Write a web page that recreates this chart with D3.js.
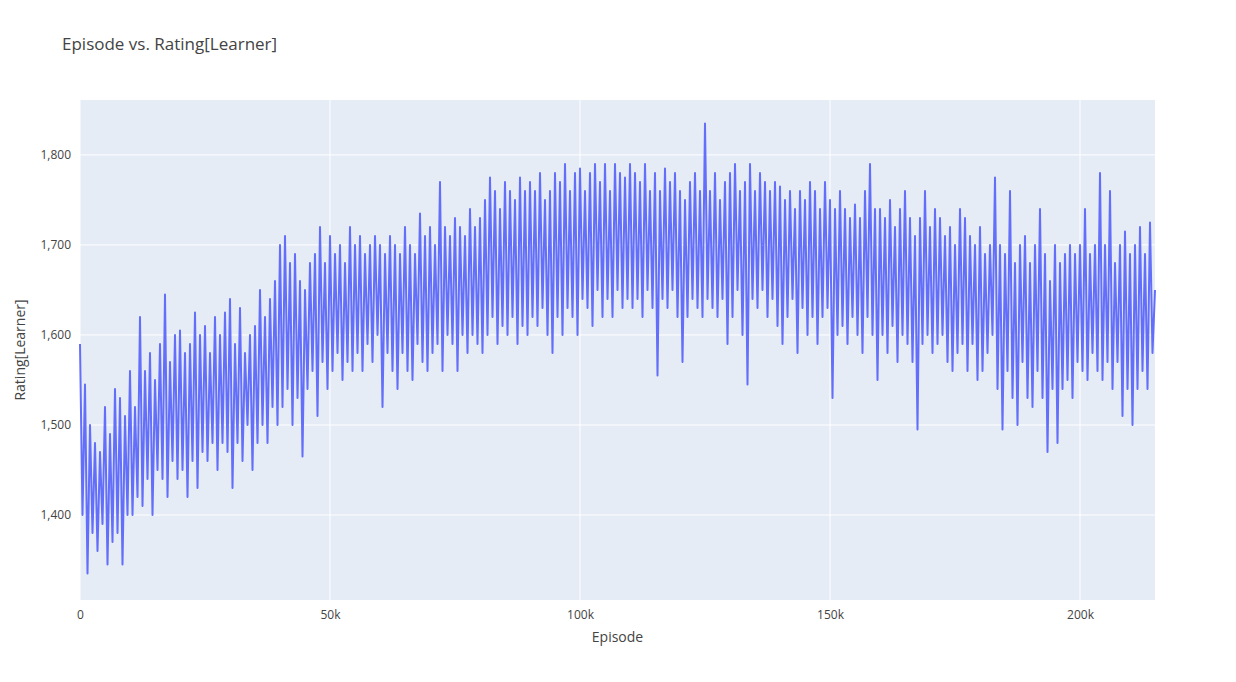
<!DOCTYPE html>
<html><head><meta charset="utf-8">
<script src="https://cdn.jsdelivr.net/npm/d3@7"></script>
<style>body{margin:0;background:#fff;font-family:"Open Sans",sans-serif;}</style>
</head><body>
<svg id="chart" width="1236" height="682"></svg>
<script>
// ---Data: ratings, one value per 500 episodes---
let episodeStep = 500;
let ratings = [
1590,1400,1545,1335,1500,1380,1480,1360,1470,1390,1520,1345,1490,1370,1540,1380,1530,1345,1510,1400,
1560,1400,1520,1420,1620,1410,1560,1440,1580,1400,1550,1450,1590,1440,1645,1420,1570,1460,1600,1440,
1605,1450,1580,1420,1590,1460,1625,1430,1600,1470,1610,1460,1580,1480,1620,1450,1600,1480,1625,1470,
1640,1430,1590,1480,1630,1460,1580,1500,1600,1450,1610,1480,1650,1500,1620,1480,1640,1520,1660,1500,
1700,1520,1710,1540,1680,1500,1690,1530,1660,1465,1650,1540,1680,1560,1690,1510,1720,1570,1680,1540,
1710,1560,1690,1580,1700,1550,1680,1570,1720,1560,1700,1580,1710,1560,1690,1590,1700,1570,1710,1600,
1700,1520,1690,1580,1710,1560,1700,1540,1690,1580,1720,1560,1700,1550,1690,1590,1735,1570,1710,1560,
1720,1580,1700,1590,1770,1560,1720,1600,1710,1590,1730,1560,1720,1600,1710,1580,1740,1600,1720,1590,
1730,1580,1750,1600,1775,1620,1760,1590,1740,1610,1770,1600,1760,1620,1750,1590,1775,1610,1760,1600,
1770,1620,1760,1610,1780,1630,1750,1600,1760,1580,1780,1620,1770,1600,1790,1630,1760,1620,1780,1600,
1785,1640,1760,1630,1780,1610,1790,1650,1770,1620,1790,1640,1760,1620,1790,1650,1780,1630,1775,1640,
1790,1630,1780,1640,1770,1620,1790,1650,1760,1630,1780,1555,1760,1640,1785,1630,1770,1650,1780,1620,
1760,1570,1750,1620,1770,1640,1780,1630,1760,1620,1835,1640,1760,1630,1780,1620,1750,1640,1770,1590,
1780,1620,1790,1650,1760,1600,1770,1545,1790,1640,1760,1630,1780,1650,1770,1620,1760,1640,1770,1610,
1765,1590,1750,1620,1760,1640,1740,1580,1760,1630,1750,1600,1770,1620,1760,1590,1740,1620,1770,1630,
1750,1530,1740,1600,1760,1610,1740,1590,1730,1620,1745,1600,1730,1580,1760,1620,1790,1600,1740,1550,
1740,1600,1730,1580,1750,1610,1720,1570,1740,1600,1760,1590,1730,1570,1710,1495,1730,1590,1760,1600,
1720,1580,1740,1590,1730,1600,1710,1570,1720,1560,1700,1580,1740,1590,1730,1560,1710,1590,1700,1550,
1720,1560,1690,1580,1700,1600,1775,1540,1700,1495,1690,1560,1760,1530,1680,1500,1700,1570,1710,1530,
1680,1520,1700,1560,1740,1530,1690,1470,1660,1540,1700,1480,1680,1540,1690,1550,1700,1530,1690,1570,
1700,1560,1740,1550,1690,1580,1700,1560,1780,1550,1700,1570,1760,1540,1680,1570,1700,1510,1715,1540,
1690,1500,1700,1540,1720,1560,1690,1540,1725,1580,1650
];
let xTicks = [0, 50000, 100000, 150000, 200000];
let yTicks = [1400, 1500, 1600, 1700, 1800];

// ---Layout---
let svg = d3.select("#chart");
let plotLeft = 80, plotRight = 1155, plotTop = 100, plotBottom = 600;

let x = d3.scaleLinear().domain([0, (ratings.length - 1) * episodeStep]).range([plotLeft, plotRight]);
let y = d3.scaleLinear().domain([1305.6, 1861]).range([plotBottom, plotTop]);

svg.append("rect").attr("x", plotLeft).attr("y", plotTop)
  .attr("width", plotRight - plotLeft).attr("height", plotBottom - plotTop).attr("fill", "#e5ecf6");

// Gridlines
svg.append("g").selectAll("line").data(yTicks).join("line")
  .attr("x1", plotLeft).attr("x2", plotRight).attr("y1", d => y(d)).attr("y2", d => y(d))
  .attr("stroke", "#fff").attr("stroke-width", 1);
svg.append("g").selectAll("line").data(xTicks).join("line")
  .attr("y1", plotTop).attr("y2", plotBottom).attr("x1", d => x(d)).attr("x2", d => x(d))
  .attr("stroke", "#fff").attr("stroke-width", 1);

// Axes (labels only)
let xAxis = svg.append("g").attr("transform", `translate(0,${plotBottom})`)
  .call(d3.axisBottom(x).tickValues(xTicks).tickSize(0).tickPadding(10)
    .tickFormat(d => d === 0 ? "0" : (d / 1000) + "k"));
let yAxis = svg.append("g").attr("transform", `translate(${plotLeft},0)`)
  .call(d3.axisLeft(y).tickValues(yTicks).tickSize(0).tickPadding(9));
[xAxis, yAxis].forEach(a => {
  a.select(".domain").remove();
  a.selectAll("text").attr("fill", "#444").style("font-size", "12px").style("font-family", "Open Sans");
});

// Line
let line = d3.line().x((d, i) => x(i * episodeStep)).y(d => y(d));
svg.append("path").datum(ratings).attr("d", line)
  .attr("fill", "none").attr("stroke", "#636efa").attr("stroke-width", 2).attr("stroke-linejoin", "round");

// Titles
svg.append("text").attr("x", 62).attr("y", 50).text("Episode vs. Rating[Learner]")
  .attr("fill", "#444").style("font-size", "17px");
svg.append("text").attr("x", (plotLeft + plotRight) / 2).attr("y", 642).attr("text-anchor", "middle")
  .text("Episode").attr("fill", "#444").style("font-size", "14px");
svg.append("text").attr("transform", `translate(25,${(plotTop + plotBottom) / 2}) rotate(-90)`)
  .attr("text-anchor", "middle").text("Rating[Learner]").attr("fill", "#444").style("font-size", "14px");
</script>
</body></html>
